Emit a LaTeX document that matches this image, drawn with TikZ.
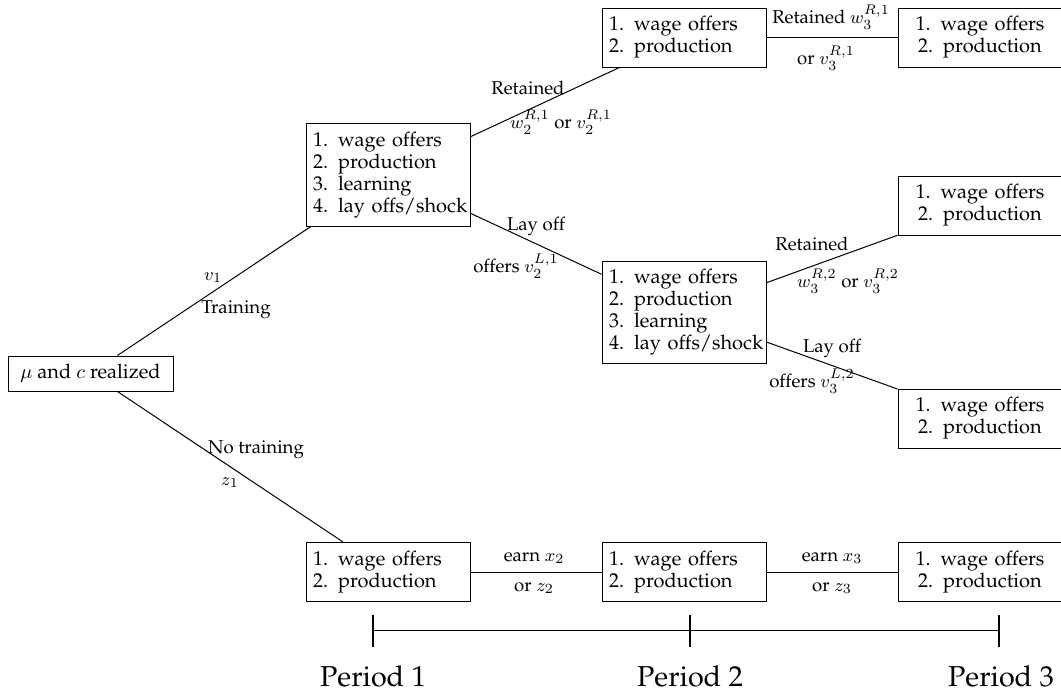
\documentclass[tikz,border=0pt]{standalone}
\usepackage[T1]{fontenc}
\usepackage{palatino}
\begin{document}
\begin{tikzpicture}[x=0.5pt,y=-0.5pt,
  box/.style={draw, line width=0.5pt, minimum width=82pt, text width=75pt,
    inner xsep=3.5pt, inner ysep=4pt, font=\fontsize{10}{11}\selectfont, align=left},
  cbox/.style={box, align=center},
  two/.style={minimum height=29.5pt},
  four/.style={minimum height=51pt},
  rootbox/.style={draw, line width=0.5pt, minimum width=82.5pt, minimum height=17.5pt,
    inner sep=3pt, font=\fontsize{10}{11}\selectfont},
  lab/.style={font=\fontsize{9.3}{11}\selectfont, anchor=base, inner sep=0pt},
  per/.style={font=\Large, anchor=base, inner sep=0pt},
  edge/.style={line width=0.5pt},
  tick/.style={line width=0.8pt}]
\useasboundingbox (0,0) rectangle (1061,693);

% nodes
\node[rootbox] (R) at (90.5,373.5) {$\mu$ and $c$ realized};
\node[box,four] (A) at (388,175) {1.\hspace{5pt}wage offers\\2.\hspace{5pt}production\\3.\hspace{5pt}learning\\\mbox{4.\hspace{5pt}lay offs/shock}};
\node[box,two] (C) at (684,37.5) {1.\hspace{5pt}wage offers\\2.\hspace{5pt}production};
\node[cbox,two] (D) at (980,37.5) {1.\hspace{5pt}wage offers\\2.\hspace{5pt}production};
\node[box,four] (E) at (684,312.5) {1.\hspace{5pt}wage offers\\2.\hspace{5pt}production\\3.\hspace{5pt}learning\\\mbox{4.\hspace{5pt}lay offs/shock}};
\node[cbox,two] (F) at (980,205.5) {1.\hspace{5pt}wage offers\\2.\hspace{5pt}production};
\node[cbox,two] (G) at (980,418.5) {1.\hspace{5pt}wage offers\\2.\hspace{5pt}production};
\node[box,two] (B1) at (388,572) {1.\hspace{5pt}wage offers\\2.\hspace{5pt}production};
\node[box,two] (B2) at (684,572) {1.\hspace{5pt}wage offers\\2.\hspace{5pt}production};
\node[cbox,two] (B3) at (980,572) {1.\hspace{5pt}wage offers\\2.\hspace{5pt}production};

% connectors
\draw[edge] (R) -- (A);
\draw[edge] (R) -- (B1);
\draw[edge] (A) -- (C);
\draw[edge] (C) -- (D);
\draw[edge] (A) -- (E);
\draw[edge] (E) -- (F);
\draw[edge] (E) -- (G);
\draw[edge] (B1) -- (B2);
\draw[edge] (B2) -- (B3);

% edge labels
\node[lab] (l1) at (213,280) {$v_1$};
\node[lab] (l2) at (236,313) {Training};
\node[lab] (l3) at (256,453) {No training};
\node[lab] (l4) at (230,485) {$z_1$};
\node[lab] (l5) at (528,94) {Retained};
\node[lab] (l6) at (561,128) {$w_2^{R,1}$ or $v_2^{R,1}$};
\node[lab] (l7) at (831,23) {Retained $w_3^{R,1}$};
\node[lab] (l8) at (826,64) {or $v_3^{R,1}$};
\node[lab] (l9) at (536,230) {Lay off};
\node[lab] (l10) at (516,272) {offers $v_2^{L,1}$};
\node[lab] (l11) at (812,250) {Retained};
\node[lab] (l12) at (848,287) {$w_3^{R,2}$ or $v_3^{R,2}$};
\node[lab] (l13) at (832,352) {Lay off};
\node[lab] (l14) at (812,387) {offers $v_3^{L,2}$};
\node[lab] (l15) at (534,561) {earn $x_2$};
\node[lab] (l16) at (534,591) {or $z_2$};
\node[lab] (l17) at (832,561) {earn $x_3$};
\node[lab] (l18) at (832,591) {or $z_3$};

% time axis
\coordinate (T1) at (373,630);
\coordinate (T2) at (690,630);
\coordinate (T3) at (999,630);
\draw[edge] (T1) -- (T2) -- (T3);
\draw[tick] (373,615) -- (373,647);
\draw[tick] (690,615) -- (690,647);
\draw[tick] (999,615) -- (999,647);
\node[per] (P1) at (373,686) {Period 1};
\node[per] (P2) at (690,686) {Period 2};
\node[per] (P3) at (1001,686) {Period 3};
\end{tikzpicture}
\end{document}
